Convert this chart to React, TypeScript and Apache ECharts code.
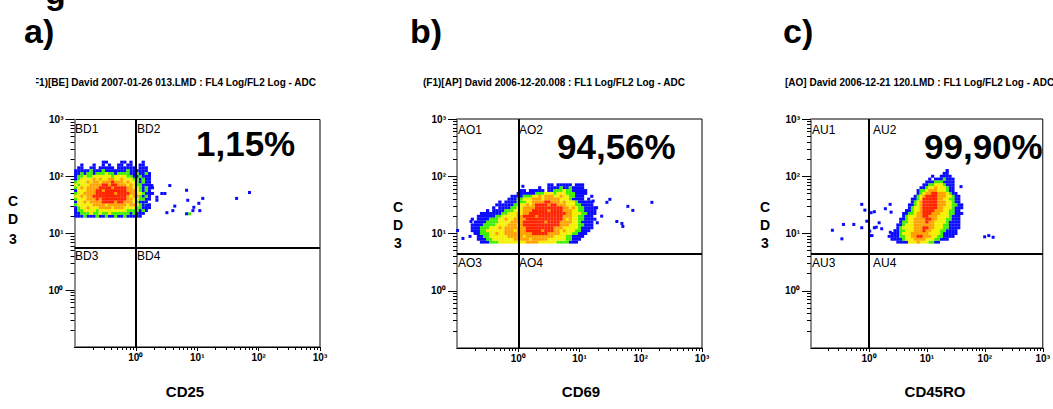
import { useEffect, useRef } from "react";
import * as echarts from "echarts";

// ---------------- DATA ----------------
const panelLetters = ["a)", "b)", "c)"];
const panelTitles = [
  "(F1)[BE] David 2007-01-26 013.LMD : FL4 Log/FL2 Log - ADC",
  "(F1)[AP] David 2006-12-20.008 : FL1 Log/FL2 Log - ADC",
  "[AO] David 2006-12-21 120.LMD : FL1 Log/FL2 Log - ADC",
];
const xAxisTitles = ["CD25", "CD69", "CD45RO"];
const yAxisTitleChars = ["C", "D", "3"];
const percentLabels = ["1,15%", "94,56%", "99,90%"];
const quadrantLabels = [
  ["BD1", "BD2", "BD3", "BD4"],
  ["AO1", "AO2", "AO3", "AO4"],
  ["AU1", "AU2", "AU3", "AU4"],
];
const axisMinValue = 0.1;
const axisMaxValue = 1000;
const decadeValues = [1, 10, 100, 1000];
const decadeTickLabels = ["10⁰", "10¹", "10²", "10³"];
const minorTickValues = [
  0.2, 0.3, 0.4, 0.5, 0.6, 0.7, 0.8, 0.9,
  2, 3, 4, 5, 6, 7, 8, 9,
  20, 30, 40, 50, 60, 70, 80, 90,
  200, 300, 400, 500, 600, 700, 800, 900,
];
const xGateValues = [1, 1, 1];
const yGateValues = [5.46, 4.46, 4.46];

// Density rasters: one row per CD3 level (top row first),
// one character per x level; b=blue g=green y=yellow o=orange r=red.
const rasterStepDecades = 0.05;
const cloudOriginsLog = [
  [-0.98, 2.25],
  [-0.85, 1.85],
  [0.35, 2.1],
];
const cloudA = [
  "         bb    bb b   b",
  "  b   b  b b  bb bb  bb",
  " bb  bb bbbbb bbbbbb bbb",
  "bbbbbgbbbgbbbbbbbgbbbbbb",
  "bbgbggbgggyggbggggbbgbbgb",
  "bggyggyyyyyygyyyyggbbgbbb",
  "bgyyyyoyoyyooyyoyyyggbgbb",
  "gyyyoyooyoooroooyoyygbgbb",
  "ygyyyoooorrorroooyoyggbbb",
  "gyoyoooorrrrorrrrooyygbgbb",
  "byyyooorrorrrrrrroooygbgb",
  "gyyoooorrrrrrorrrrooyygbbb",
  "yyoyoorrrrrrrrrrroyoogbgb",
  "gyyyooororrrrrrrrooyyggbb",
  "byyoyoooorrrrorroooygbbb",
  "gyyyyyooooyooooooyooygbgb",
  "bgyyoyyyooooyoooyyyyggbbb",
  "bggyyyygyyyyyyyyyggggbgb",
  "bbgggyggyggyggggggbgbbb",
  "bbbgbbbgbbgbbgbbgbbbbb",
];
const cloudB = [
  "                           bb bbbbb bbb",
  "                        b  bbbbgbbgbbbb",
  "                  bb bbbbb bbgggyggbbbbb",
  "                 bbbbbbgggyyygyyygggbbbb",
  "               bbbbgggyyoyoooyyoyyggbbb  b",
  "              bbbggyyyoooyoooooyyygbbbb b",
  "           b bbbbgggyyoooorroooyoyyygbbbbb",
  "          bbbbbbggyyoyorrrrorroooyyyggbbbb",
  "         b bbbbggyyoooorrrrrrrrrooyoyggbbbb",
  "       b bbbbgggyyyooorrrrrorrrroooyyggbbbb",
  "     bbbbbbbggyyyoyoorrrrrrrrrrrrooyyyggbbb",
  "    bbbbbbggyyyyyoorrrrorrrrrrrroooyyggbbb",
  "  b bbbbgggyyoyyoooorrrrrrrrrrrroyoyyggbbbb",
  "   bbbbggggyyyyoooorrrrrrrorrrrooooyygbbbb",
  "  bbbbggggyyyyoooyorrrrrrrrrrrroooyyyggbbb",
  "  bbbgggyyyoyooooooorrrrrrrrroooyyyyygbbbb",
  "  bbbggyyyyyyoooyooorrrrrorrrooyoyyyggbbb",
  "   bbgggyyoyyooooooooorrrrrooooyyyyggbbb",
  "    bbggyyyyyyoooooyoooooooooyyyyggbbbb",
  "    bbbggyyyyyyyoooooyoooooyyyyyyggbbb",
  "     bbbgggyyyyyyyyyooooyyyyyyggggbbb",
];
const cloudC = [
  "                    b",
  "                   bb",
  "               b  bbbb",
  "              b bbbgbbb",
  "             bbbgggbbbb",
  "            bbggyyygbbb",
  "           bbgyyoyyygbb",
  "          bggyoooyyygbb",
  "          bgyoorroooygbb",
  "         bgyorrrroooyygbb",
  "        bbgyrrrrrooyyggbb",
  "        bgyorrrrroooyygbb",
  "       bbgyorrrrroooyyggbb",
  "       bgyyorrrrrooyyygbbb",
  "      bbgyyorrrroooyyggbb",
  "     bbggyoorrroooyyyggbbb",
  "     bgyyyoorroooyyyygbbb",
  "    bbgyyoooorrooyyyggbbb",
  "    bggyyoooorooyyyygbbbb",
  "   bbgyyyoooooooyyyggbbbb",
  "   bgyyyyooorrooyyyggbbbb",
  "  bbggyyyooorooyyyggbbbb",
  " bbbgyyyooooooyyyygbbbbb",
  "bbbbggyyoorroooyyggbbbb",
  " bbbbgyyyooooyyyggbbb",
  "   bbbbyyyoyyyggbb",
];
// isolated events [x, CD3]
const outliersA = [
  [1.82, 69], [2.2, 38], [2.2, 43], [2.65, 50], [2.97, 50], [3.57, 69], [4.3, 30],
  [4.0, 25], [3.2, 23], [6.7, 57], [7.0, 38], [8.5, 25], [6.7, 22], [8.8, 28.6],
  [11, 25], [10.6, 33.6], [12.3, 41], [43.8, 41], [71, 52], [1.5, 31],
];
const outliersAGreen = [[7.5, 22]];
const outliersB = [
  [28, 35], [31.3, 39.5], [61.6, 29.8], [74.3, 25.3], [152, 35], [40.7, 16.2],
  [49.2, 15], [51, 13.3], [0.102, 11.3], [0.125, 8.2], [0.163, 8.9], [0.169, 16.2],
  [0.197, 10.4], [1.19, 66.8], [16.7, 36.9], [19, 28.2], [23, 20.1], [19.5, 15.4],
];
const outliersC = [
  [0.234, 11.4], [0.341, 8.07], [0.363, 14.4], [0.548, 14.4], [0.751, 32.3],
  [0.851, 25.6], [0.918, 16.4], [0.751, 12.6], [1.09, 23.1], [1.24, 24], [1.03, 11],
  [1.13, 9.2], [1.24, 12.6], [1.5, 15.4], [1.66, 12.1], [1.92, 27.1], [2.32, 32.3],
  [2.41, 23.6], [38.8, 65.9], [99.3, 8.75], [117, 9.2], [139, 8.6], [1.34, 12.9],
  [2.34, 10.5], [1.04, 9.2],
];

// ---------------- STYLE / LAYOUT ----------------
const FONT = "'Liberation Sans', Arial, Helvetica, sans-serif";
const levelOrder = ["b", "g", "y", "o", "r"];
const levelColors: Record<string, string> = {
  b: "#0a0aff",
  g: "#3ef000",
  y: "#f4f000",
  o: "#ffa200",
  r: "#ff2400",
};
const gridLayouts = [
  { left: 74.5, top: 119.5, width: 245.5, height: 227.5 },
  { left: 457, top: 119, width: 245, height: 229 },
  { left: 811, top: 119, width: 245, height: 229 },
];
const letterPos = [[24, 31], [410, 31], [783, 31]];
const titlePos = [
  { x: 316, align: "right" },
  { x: 423, align: "left" },
  { x: 785, align: "left" },
];
const percentPos = [[196, 143], [557, 146], [924, 146]];
const quadPos = [
  [[75, 129], [137, 129], [75, 256], [137, 256]],
  [[458, 130], [519, 130], [458, 263], [519, 263]],
  [[812, 130], [873, 130], [812, 263], [873, 263]],
];
const xTitlePos = [[185, 391], [581, 391], [935, 391]];
const yTitlePos = [
  { x: 13, ys: [200.5, 218.5, 238.5] },
  { x: 398, ys: [206.7, 224.5, 242.6] },
  { x: 765, ys: [207, 225, 243] },
];

function cloudPoints(rows: string[], origin: number[], level: string) {
  const pts: number[][] = [];
  rows.forEach((row, j) => {
    for (let i = 0; i < row.length; i++) {
      if (row[i] === level) {
        pts.push([origin[0] + i * rasterStepDecades, origin[1] - j * rasterStepDecades]);
      }
    }
  });
  return pts;
}

function buildOption() {
  const lo = Math.round(Math.log10(axisMinValue));
  const hi = Math.round(Math.log10(axisMaxValue));
  const decadeLogs = decadeValues.map((v) => Math.round(Math.log10(v)));
  const minorLogs = minorTickValues.map((v) => Math.log10(v));
  const labelMap = new Map<number, string>();
  decadeLogs.forEach((l, i) => labelMap.set(l, decadeTickLabels[i]));
  const fmt = (v: number) => labelMap.get(Math.round(v)) ?? "";
  const clouds = [cloudA, cloudB, cloudC];
  const outliers = [outliersA, outliersB, outliersC];
  const toLog = (p: number[]) => [Math.log10(p[0]), Math.log10(p[1])];

  const grids: any[] = [];
  const xAxes: any[] = [];
  const yAxes: any[] = [];
  const series: any[] = [];
  const graphic: any[] = [];

  const labelStyle = {
    fontSize: 10,
    fontWeight: "bold",
    fontFamily: FONT,
    color: "#000",
  };

  for (let p = 0; p < 3; p++) {
    grids.push({
      ...gridLayouts[p],
      show: true,
      borderColor: "#000",
      borderWidth: 1,
      backgroundColor: "transparent",
      containLabel: false,
    });
    xAxes.push({
      type: "value",
      gridIndex: p,
      min: lo,
      max: hi,
      interval: 1,
      position: "bottom",
      axisLine: { show: true, onZero: false, lineStyle: { color: "#000", width: 1.2 } },
      axisTick: { show: true, length: 4, lineStyle: { color: "#000", width: 1 }, customValues: decadeLogs },
      axisLabel: { show: true, customValues: decadeLogs, formatter: fmt, margin: 5, ...labelStyle },
      splitLine: { show: false },
    });
    xAxes.push({
      type: "value",
      gridIndex: p,
      min: lo,
      max: hi,
      position: "bottom",
      axisLine: { show: false, onZero: false },
      axisTick: { show: true, length: 3, lineStyle: { color: "#000", width: 1 }, customValues: minorLogs },
      axisLabel: { show: false },
      splitLine: { show: false },
    });
    yAxes.push({
      type: "value",
      gridIndex: p,
      min: lo,
      max: hi,
      interval: 1,
      position: "left",
      axisLine: { show: true, onZero: false, lineStyle: { color: "#8c8c8c", width: 2 } },
      axisTick: { show: true, length: 9, lineStyle: { color: "#000", width: 1 }, customValues: decadeLogs },
      axisLabel: { show: true, customValues: decadeLogs, formatter: fmt, margin: 11, ...labelStyle },
      splitLine: { show: false },
    });
    yAxes.push({
      type: "value",
      gridIndex: p,
      min: lo,
      max: hi,
      position: "left",
      axisLine: { show: false, onZero: false },
      axisTick: { show: true, length: 4, lineStyle: { color: "#000", width: 1 }, customValues: minorLogs },
      axisLabel: { show: false },
      splitLine: { show: false },
    });

    for (const lv of levelOrder) {
      series.push({
        type: "scatter",
        xAxisIndex: 2 * p,
        yAxisIndex: 2 * p,
        data: cloudPoints(clouds[p], cloudOriginsLog[p], lv),
        symbol: "rect",
        symbolSize: [3.2, 3.0],
        itemStyle: { color: levelColors[lv], opacity: 1 },
        silent: true,
        z: 2,
      });
    }
    if (p === 0) {
      series.push({
        type: "scatter",
        xAxisIndex: 0,
        yAxisIndex: 0,
        data: outliersAGreen.map(toLog),
        symbol: "rect",
        symbolSize: [3, 3],
        itemStyle: { color: levelColors.g, opacity: 1 },
        silent: true,
        z: 2,
      });
    }
    series.push({
      type: "scatter",
      xAxisIndex: 2 * p,
      yAxisIndex: 2 * p,
      data: outliers[p].map(toLog),
      symbol: "rect",
      symbolSize: [3, 3],
      itemStyle: { color: levelColors.b, opacity: 1 },
      silent: true,
      z: 3,
      markLine: {
        silent: true,
        symbol: ["none", "none"],
        label: { show: false },
        lineStyle: { color: "#000", width: 2, type: "solid", opacity: 1 },
        emphasis: { disabled: true },
        data: [{ xAxis: Math.log10(xGateValues[p]) }, { yAxis: Math.log10(yGateValues[p]) }],
      },
    });

    const txt = (text: string, x: number, y: number, size: number, weight: string, align = "left") => ({
      type: "text",
      x,
      y,
      silent: true,
      z: 10,
      style: {
        text,
        fontSize: size,
        fontWeight: weight,
        fontFamily: FONT,
        fill: "#000",
        align,
        verticalAlign: "middle",
      },
    });

    graphic.push(txt(panelLetters[p], letterPos[p][0], letterPos[p][1], 34, "bold"));
    graphic.push(txt(panelTitles[p], titlePos[p].x, 82, 10, "bold", titlePos[p].align));
    graphic.push(txt(percentLabels[p], percentPos[p][0], percentPos[p][1], 35, "bold"));
    quadrantLabels[p].forEach((q, k) => {
      graphic.push(txt(q, quadPos[p][k][0], quadPos[p][k][1], 12, "normal"));
    });
    graphic.push(txt(xAxisTitles[p], xTitlePos[p][0], xTitlePos[p][1], 15, "bold", "center"));
    yAxisTitleChars.forEach((ch, k) => {
      graphic.push(txt(ch, yTitlePos[p].x, yTitlePos[p].ys[k], 14, "bold", "center"));
    });
  }
  // cropped remnants of the source figure
  graphic.push({
    type: "rect",
    silent: true,
    z: 11,
    shape: { x: 0, y: 74, width: 36, height: 16 },
    style: { fill: "#fff" },
  });
  graphic.push({
    type: "text",
    x: 45,
    y: -8,
    silent: true,
    z: 10,
    style: { text: "g", fontSize: 34, fontWeight: "bold", fontFamily: FONT, fill: "#000", align: "left", verticalAlign: "middle" },
  });

  return {
    animation: false,
    backgroundColor: "#fff",
    grid: grids,
    xAxis: xAxes,
    yAxis: yAxes,
    series,
    graphic,
  };
}

export default function App() {
  const ref = useRef<HTMLDivElement>(null);
  useEffect(() => {
    if (!ref.current) return;
    const chart = echarts.init(ref.current, null, { renderer: "svg" });
    chart.setOption(buildOption() as any);
    return () => chart.dispose();
  }, []);
  return (
    <div
      ref={ref}
      style={{ position: "absolute", left: 0, top: 0, width: 1053, height: 409, background: "#fff" }}
    />
  );
}
